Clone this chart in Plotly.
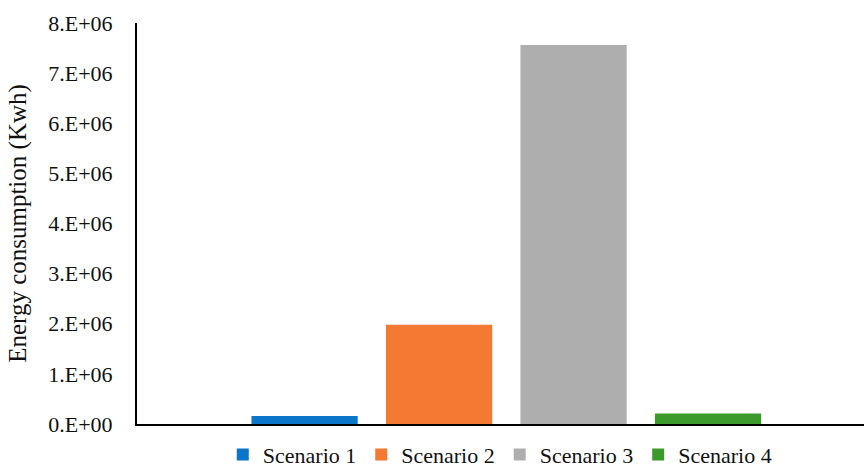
import plotly.graph_objects as go

# Annual energy consumption per scenario (kWh)
scenarios = ["Scenario 1", "Scenario 2", "Scenario 3", "Scenario 4"]
consumption = [0.16e6, 1.98e6, 7.56e6, 0.21e6]
colors = ["#0a75c9", "#f47932", "#aeaeae", "#3c9a2d"]

tick_values = [0, 1e6, 2e6, 3e6, 4e6, 5e6, 6e6, 7e6, 8e6]
tick_labels = ["0.E+00", "1.E+06", "2.E+06", "3.E+06", "4.E+06",
               "5.E+06", "6.E+06", "7.E+06", "8.E+06"]

FONT = "Liberation Serif, Times New Roman, serif"
INK = "#111111"

fig = go.Figure()
for name, val, col in zip(scenarios, consumption, colors):
    fig.add_trace(go.Bar(
        x=[""], y=[val], name=name,
        marker=dict(color=col, line=dict(width=0)),
    ))

fig.update_layout(
    width=864, height=469,
    margin=dict(l=137, r=0, t=23, b=45, autoexpand=False),
    paper_bgcolor="white", plot_bgcolor="white",
    barmode="group", bargap=0.26, bargroupgap=0.21,
    font=dict(family=FONT, size=22, color=INK),
    showlegend=True,
    legend=dict(
        orientation="h", x=0.499, xanchor="center", y=-0.0245, yanchor="top",
        bgcolor="rgba(0,0,0,0)",
        font=dict(family=FONT, size=22, color=INK),
        itemwidth=30, tracegroupgap=0,
    ),
    xaxis=dict(
        range=[-0.508, 0.492],
        showline=True, linecolor="black", linewidth=2,
        showticklabels=False, ticks="", showgrid=False, zeroline=False,
    ),
    yaxis=dict(
        range=[0, 8e6],
        tickvals=tick_values, ticktext=tick_labels,
        showline=True, linecolor="black", linewidth=2,
        ticks="", showgrid=False, zeroline=False,
        ticklabelstandoff=18,
        tickfont=dict(family=FONT, size=22, color=INK),
        title=dict(text="Energy consumption (Kwh)", standoff=14,
                   font=dict(family=FONT, size=25, color=INK)),
    ),
)

fig.write_html("out.html")
